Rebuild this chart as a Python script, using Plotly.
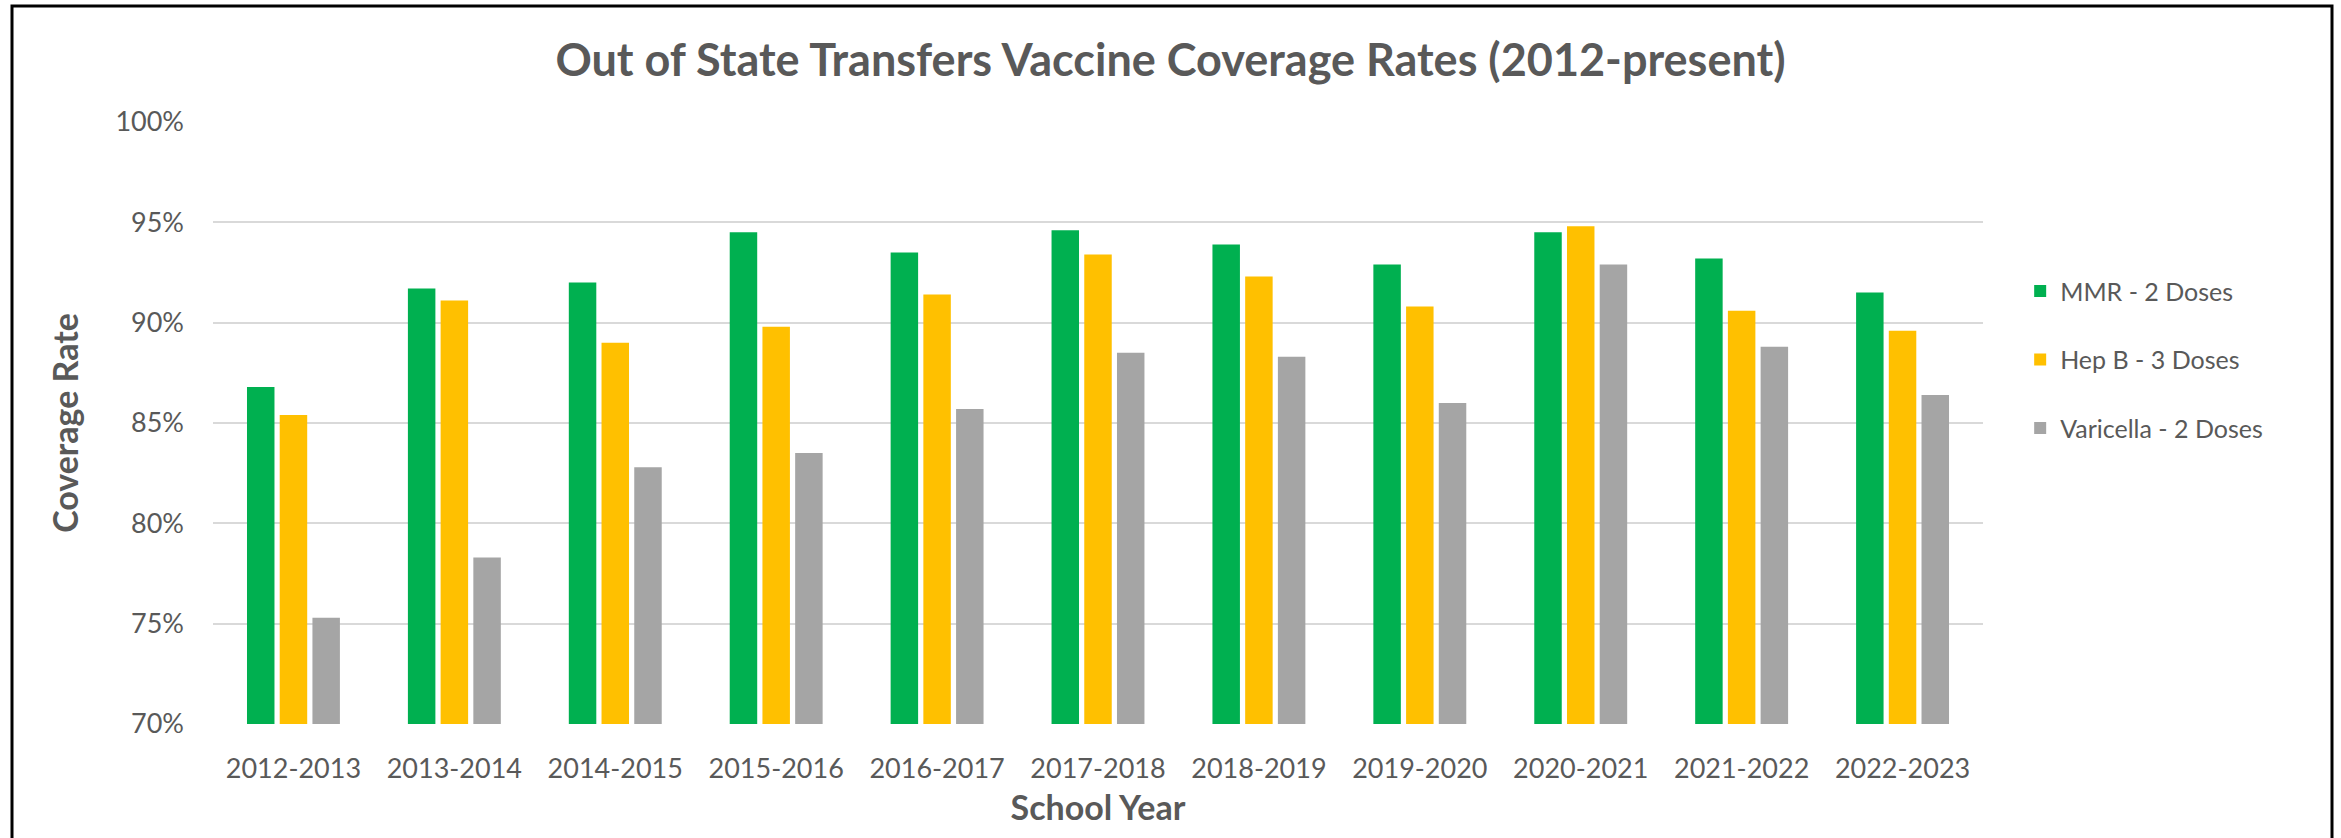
import plotly.graph_objects as go

school_years = ["2012-2013", "2013-2014", "2014-2015", "2015-2016", "2016-2017", "2017-2018",
                "2018-2019", "2019-2020", "2020-2021", "2021-2022", "2022-2023"]
mmr_2_doses = [0.868, 0.917, 0.920, 0.945, 0.935, 0.946, 0.939, 0.929, 0.945, 0.932, 0.915]
hepb_3_doses = [0.854, 0.911, 0.890, 0.898, 0.914, 0.934, 0.923, 0.908, 0.948, 0.906, 0.896]
varicella_2_doses = [0.753, 0.783, 0.828, 0.835, 0.857, 0.885, 0.883, 0.860, 0.929, 0.888, 0.864]

series = [
    ("MMR - 2 Doses", mmr_2_doses, "#00B050"),
    ("Hep B - 3 Doses", hepb_3_doses, "#FFC000"),
    ("Varicella - 2 Doses", varicella_2_doses, "#A5A5A5"),
]

font_family = "Lato, 'Open Sans', 'Noto Sans', sans-serif"
text_color = "#595959"

fig = go.Figure()
for name, vals, color in series:
    fig.add_trace(go.Bar(x=school_years, y=vals, name=name, legendgroup=name,
                         marker=dict(color=color, line=dict(width=0))))

fig.update_layout(
    width=2341, height=838,
    margin=dict(l=213, r=358, t=122, b=114),
    paper_bgcolor="white", plot_bgcolor="white",
    font=dict(family=font_family, color=text_color, size=27),
    barmode="group", bargap=0.39, bargroupgap=0.16,
    title=dict(text="<b>Out of State Transfers Vaccine Coverage Rates (2012-present)</b>",
               x=0.5, xanchor="center", y=1 - 60 / 838, yanchor="middle",
               font=dict(size=45, color=text_color)),
    legend=dict(x=1.021, xanchor="left", y=0.605, yanchor="middle",
                font=dict(size=25, color=text_color), tracegroupgap=33,
                itemclick=False),
    showlegend=True,
)

fig.update_xaxes(
    showgrid=False, showline=False, ticks="", ticklabelstandoff=26,
    tickfont=dict(size=27, color=text_color),
    title=dict(text="<b>School Year</b>", font=dict(size=34, color=text_color), standoff=13),
)
fig.update_yaxes(
    range=[0.70, 1.00], dtick=0.05, tickformat=".0%",
    showgrid=True, gridcolor="#D9D9D9", gridwidth=2,
    zeroline=False, showline=False, ticks="", ticklabelstandoff=28,
    tickfont=dict(size=27, color=text_color),
    title=dict(text="<b>Coverage Rate</b>", font=dict(size=34, color=text_color), standoff=26),
)

# outer chart frame
fig.add_shape(type="rect", xref="paper", yref="paper",
              x0=(12 - 213) / 1770, x1=(2332 - 213) / 1770,
              y0=-0.3, y1=(724 - 6) / 602,
              line=dict(color="black", width=3), fillcolor="rgba(0,0,0,0)", layer="below")

fig.write_html("out.html", config={"displayModeBar": False},
               post_script="document.body.style.margin='0';")
